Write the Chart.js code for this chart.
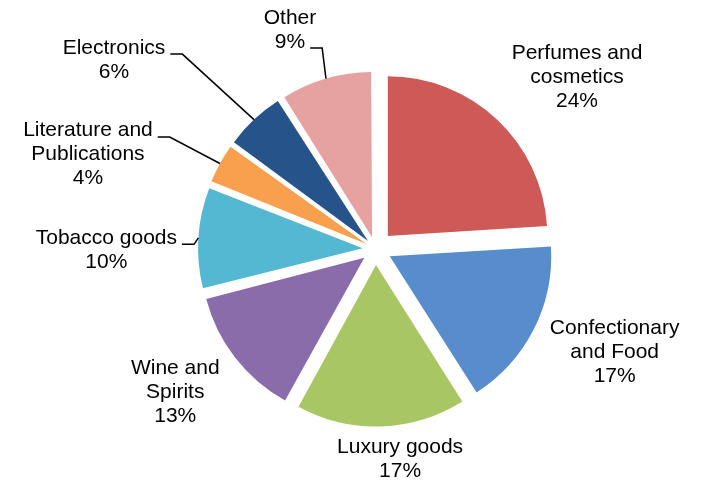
<!DOCTYPE html>
<html>
<head>
<meta charset="utf-8">
<script src="https://cdn.jsdelivr.net/npm/chart.js"></script>
<style>
  html, body { margin: 0; padding: 0; background: #fff; }
  #wrap { width: 702px; height: 480px; }
</style>
</head>
<body>
<div id="wrap"><canvas id="salesPie" width="702" height="480"></canvas></div>
<script>
// Sales share by category (%)
const categories = [
  ['Perfumes and', 'cosmetics'],
  ['Confectionary', 'and Food'],
  ['Luxury goods'],
  ['Wine and', 'Spirits'],
  ['Tobacco goods'],
  ['Literature and', 'Publications'],
  ['Electronics'],
  ['Other']
];
const shares = [24, 17, 17, 13, 10, 4, 6, 9];

const sliceColors = ['#cd5a56', '#588dcb', '#a8c764', '#8a6cab', '#55b8d3', '#f9a04f', '#26538a', '#e6a2a0'];

// how far every slice is pulled out from the centre (px)
const explode = 18;
const lineHeight = 24;

// label placement relative to the slice's outer edge point; leader = line index the connector attaches to
const labelPos = [
  { dx: 80, dy: -61 },
  { dx: 81, dy: 4 },
  { dx: 19, dy: 27 },
  { dx: -60, dy: 16 },
  { dx: -92, dy: 6, leader: 0 },
  { dx: -132, dy: -27, leader: 0 },
  { dx: -140, dy: -66, leader: 0 },
  { dx: -36, dy: -55, leader: 1 }
];

// chart.js moves an arc by offset/4 * (2 - sin(circ)); invert that so every slice moves the same distance
function sliceOffset(c) {
  const data = c.dataset.data;
  const total = data.reduce((a, b) => a + b, 0);
  const circ = data[c.dataIndex] / total * Math.PI * 2;
  return 4 * explode / (2 - Math.sin(Math.min(Math.PI, circ)));
}

const outsideLabels = {
  id: 'outsideLabels',
  afterDatasetsDraw(chart) {
    const ctx = chart.ctx;
    const meta = chart.getDatasetMeta(0);
    ctx.save();
    ctx.font = '21px "Liberation Sans", Arial, sans-serif';
    ctx.fillStyle = '#000';
    ctx.strokeStyle = '#000';
    ctx.lineWidth = 1.5;
    ctx.textAlign = 'center';
    ctx.textBaseline = 'alphabetic';
    meta.data.forEach((arc, i) => {
      const p = arc.getProps(['x', 'y', 'startAngle', 'endAngle', 'outerRadius', 'circumference'], true);
      const mid = (p.startAngle + p.endAngle) / 2;
      const fix = 1 - Math.sin(Math.min(Math.PI, p.circumference));
      const shift = (arc.options.offset || 0) / 4 * (1 + fix);
      const r = shift + p.outerRadius;
      const ex = p.x + Math.cos(mid) * r;
      const ey = p.y + Math.sin(mid) * r;

      const lines = categories[i].concat(shares[i] + '%');
      const pos = labelPos[i];
      const cx = ex + pos.dx;
      const by = ey + pos.dy;
      lines.forEach((t, k) => ctx.fillText(t, cx, by + k * lineHeight));

      if (pos.leader !== undefined) {
        const k = pos.leader;
        const w = ctx.measureText(lines[k]).width;
        const sx = cx + w / 2 + 5;
        const sy = by + k * lineHeight + 0.5;
        ctx.beginPath();
        ctx.moveTo(sx, sy);
        ctx.lineTo(sx + 12, sy);
        ctx.lineTo(ex, ey);
        ctx.stroke();
      }
    });
    ctx.restore();
  }
};

const ctx = document.getElementById('salesPie').getContext('2d');
new Chart(ctx, {
  type: 'pie',
  data: {
    labels: categories,
    datasets: [{
      data: shares,
      backgroundColor: sliceColors,
      borderWidth: 0,
      offset: sliceOffset,
      hoverOffset: 0
    }]
  },
  options: {
    responsive: false,
    animation: false,
    radius: 159.5,
    layout: { padding: { left: 49, right: 0, top: 18, bottom: 0 } },
    plugins: {
      legend: { display: false },
      tooltip: { enabled: false }
    }
  },
  plugins: [outsideLabels]
});
</script>
</body>
</html>
